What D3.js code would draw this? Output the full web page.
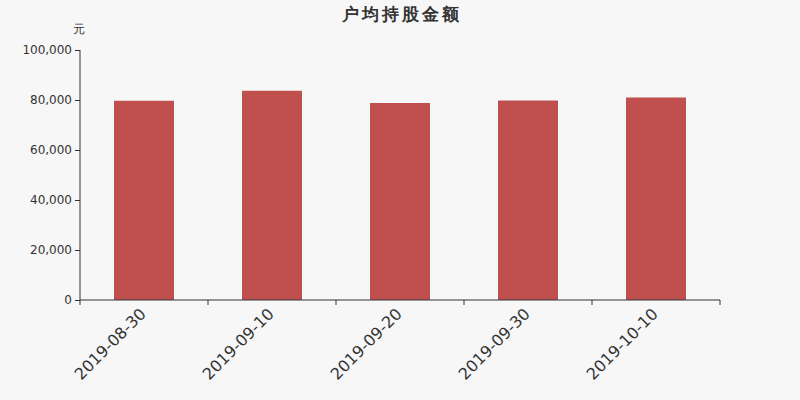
<!DOCTYPE html>
<html>
<head>
<meta charset="utf-8">
<script src="https://cdn.jsdelivr.net/npm/d3@7"></script>
<style>
  body { margin: 0; background: #f7f7f7; }
  text { font-family: "DejaVu Sans", sans-serif; fill: #333; }
</style>
</head>
<body>
<div id="chart"></div>
<script>
(function () {

  // Data
  const dates = ["2019-08-30", "2019-09-10", "2019-09-20", "2019-09-30", "2019-10-10"]
  const values = [79700, 83700, 78800, 79800, 81000]
  const yTicks = [0, 20000, 40000, 60000, 80000, 100000]

  // Margin convention
  const margin = { top: 50, right: 80, bottom: 100, left: 80 }
  const width = 800 - margin.left - margin.right
  const height = 400 - margin.top - margin.bottom

  const xScale = d3.scaleBand()
    .domain(dates)
    .range([0, width])

  const yScale = d3.scaleLinear()
    .domain([0, 100000])
    .range([height, 0])

  const fmt = d3.format(",")

  const root = d3.select("#chart").append("svg")
    .attr("width", 800)
    .attr("height", 400)
    .style("background", "#f7f7f7")

  // Title
  root.append("text")
    .attr("x", 402)
    .attr("y", 20)
    .attr("text-anchor", "middle")
    .style("font-size", "17px")
    .style("font-weight", "bold")
    .style("letter-spacing", "3px")
    .text("户均持股金额")

  // Unit label
  root.append("text")
    .attr("x", 79)
    .attr("y", 33)
    .attr("text-anchor", "middle")
    .style("font-size", "12px")
    .text("元")

  const svg = root.append("g")
    .attr("transform", "translate(" + margin.left + "," + margin.top + ")")

  // Bars
  const barWidth = 60
  svg.selectAll("rect")
    .data(values)
    .join("rect")
    .attr("x", (d, i) => xScale(dates[i]) + (xScale.bandwidth() - barWidth) / 2)
    .attr("width", barWidth)
    .attr("y", d => yScale(d))
    .attr("height", d => height - yScale(d))
    .attr("fill", "#c0504d")

  // y axis
  const yAxis = d3.axisLeft(yScale)
    .tickValues(yTicks)
    .tickFormat(fmt)
    .tickSize(5)
    .tickPadding(3)
  const gy = svg.append("g").call(yAxis)
  gy.select(".domain").attr("stroke", "#333").attr("d", "M0," + height + "V0")
  gy.selectAll(".tick line").attr("stroke", "#333")
  gy.selectAll("text").style("font-size", "12px").attr("fill", "#333")

  // x axis
  const xAxis = d3.axisBottom(xScale).tickSize(0).tickPadding(0)
  const gx = svg.append("g")
    .attr("transform", "translate(0," + height + ")")
    .call(xAxis)
  gx.select(".domain").attr("stroke", "#333").attr("d", "M0,0H" + width)

  // band boundary ticks
  gx.selectAll(".bound")
    .data(d3.range(dates.length + 1))
    .join("line")
    .attr("class", "bound")
    .attr("x1", i => i * xScale.step())
    .attr("x2", i => i * xScale.step())
    .attr("y1", 0)
    .attr("y2", 5)
    .attr("stroke", "#333")

  gx.selectAll(".tick text")
    .style("font-size", "16px")
    .attr("fill", "#333")
    .attr("text-anchor", "end")
    .attr("dy", "0.35em")
    .attr("transform", "translate(-1,11) rotate(-45)")

})();
</script>
</body>
</html>
